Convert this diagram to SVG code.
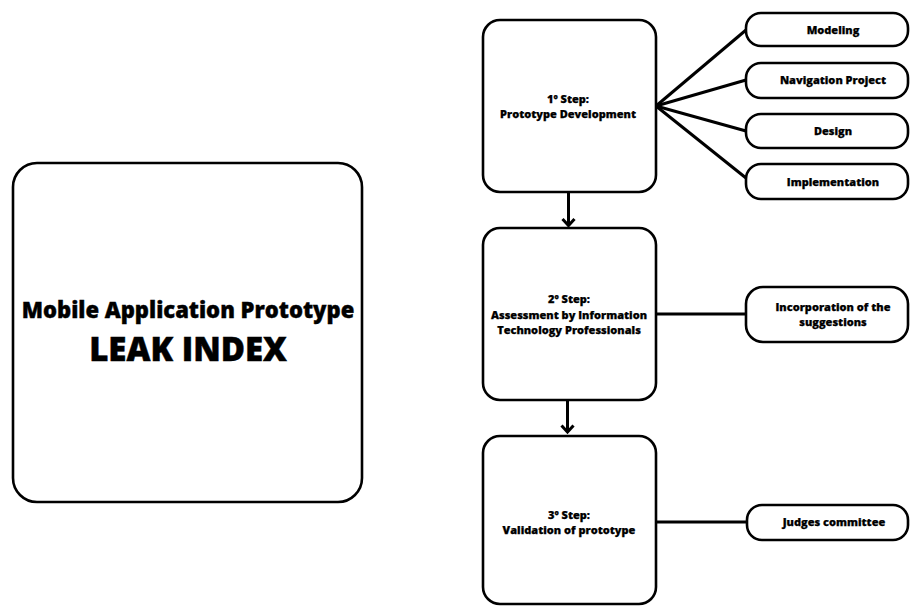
<svg xmlns="http://www.w3.org/2000/svg" width="911" height="606" viewBox="0 0 911 606">
<defs>
<style>
.box{fill:#fff;stroke:#000;stroke-width:2.6}
.pill{fill:#fff;stroke:#000;stroke-width:2.6}
.ln{fill:none;stroke:#000;stroke-width:3}
.ah{fill:none;stroke:#000;stroke-width:3;stroke-linejoin:miter}
text{font-family:"Open Sans","Noto Sans","Liberation Sans",sans-serif;font-weight:800;fill:#000;stroke:#000;stroke-width:0.25;text-anchor:middle}
.s{font-size:11px}
.t{font-size:11px}
</style>
</defs>
<rect width="911" height="606" fill="#fff"/>
<g id="connectors">
<line class="ln" x1="656" y1="106" x2="746" y2="30"/>
<line class="ln" x1="656" y1="106" x2="746" y2="80"/>
<line class="ln" x1="656" y1="106" x2="746" y2="131"/>
<line class="ln" x1="656" y1="106" x2="746" y2="178"/>
<line class="ln" x1="656" y1="314" x2="746" y2="314"/>
<line class="ln" x1="656" y1="522" x2="747" y2="522"/>
<line class="ln" x1="568.5" y1="192" x2="568.5" y2="225"/>
<polyline class="ah" points="562.5,219 568.5,225.5 574.5,219"/>
<line class="ln" x1="567.5" y1="400" x2="567.5" y2="432"/>
<polyline class="ah" points="561.5,425.5 567.5,432 573.5,425.5"/>
</g>
<g id="main">
<rect class="box" x="13" y="163" width="349" height="339" rx="24"/>
<text x="188" y="318" style="font-size:22px;stroke-width:0.4">Mobile Application Prototype</text>
<text x="188" y="361" style="font-size:33px;stroke-width:0.5">LEAK INDEX</text>
</g>
<g id="step1">
<rect class="box" x="483" y="20" width="173" height="172" rx="17"/>
<text class="s" x="568" y="103">1º Step:</text>
<text class="s" x="568" y="117.5">Prototype Development</text>
</g>
<g id="step2">
<rect class="box" x="483" y="228" width="173" height="172" rx="17"/>
<text class="s" x="569" y="303">2º Step:</text>
<text class="s" x="569" y="318.5">Assessment by Information</text>
<text class="s" x="569" y="333.5">Technology Professionals</text>
</g>
<g id="step3">
<rect class="box" x="483" y="436" width="173" height="168" rx="17"/>
<text class="s" x="569" y="519">3º Step:</text>
<text class="s" x="569" y="533.5">Validation of prototype</text>
</g>
<g id="modeling">
<rect class="pill" x="746" y="13" width="162" height="33" rx="15"/>
<text class="t" x="833" y="34">Modeling</text>
</g>
<g id="navigation">
<rect class="pill" x="746" y="63" width="162" height="35" rx="15"/>
<text class="t" x="833" y="84">Navigation Project</text>
</g>
<g id="design">
<rect class="pill" x="746" y="114" width="162" height="34" rx="15"/>
<text class="t" x="833" y="135">Design</text>
</g>
<g id="implementation">
<rect class="pill" x="746" y="164" width="162" height="35" rx="15"/>
<text class="t" x="833" y="185.5">Implementation</text>
</g>
<g id="incorporation">
<rect class="pill" x="746" y="287" width="162" height="55" rx="17"/>
<text class="t" x="833" y="311">Incorporation of the</text>
<text class="t" x="833" y="326">suggestions</text>
</g>
<g id="judges">
<rect class="pill" x="747" y="505" width="161" height="35" rx="15"/>
<text class="t" x="834" y="526">Judges committee</text>
</g>
</svg>
